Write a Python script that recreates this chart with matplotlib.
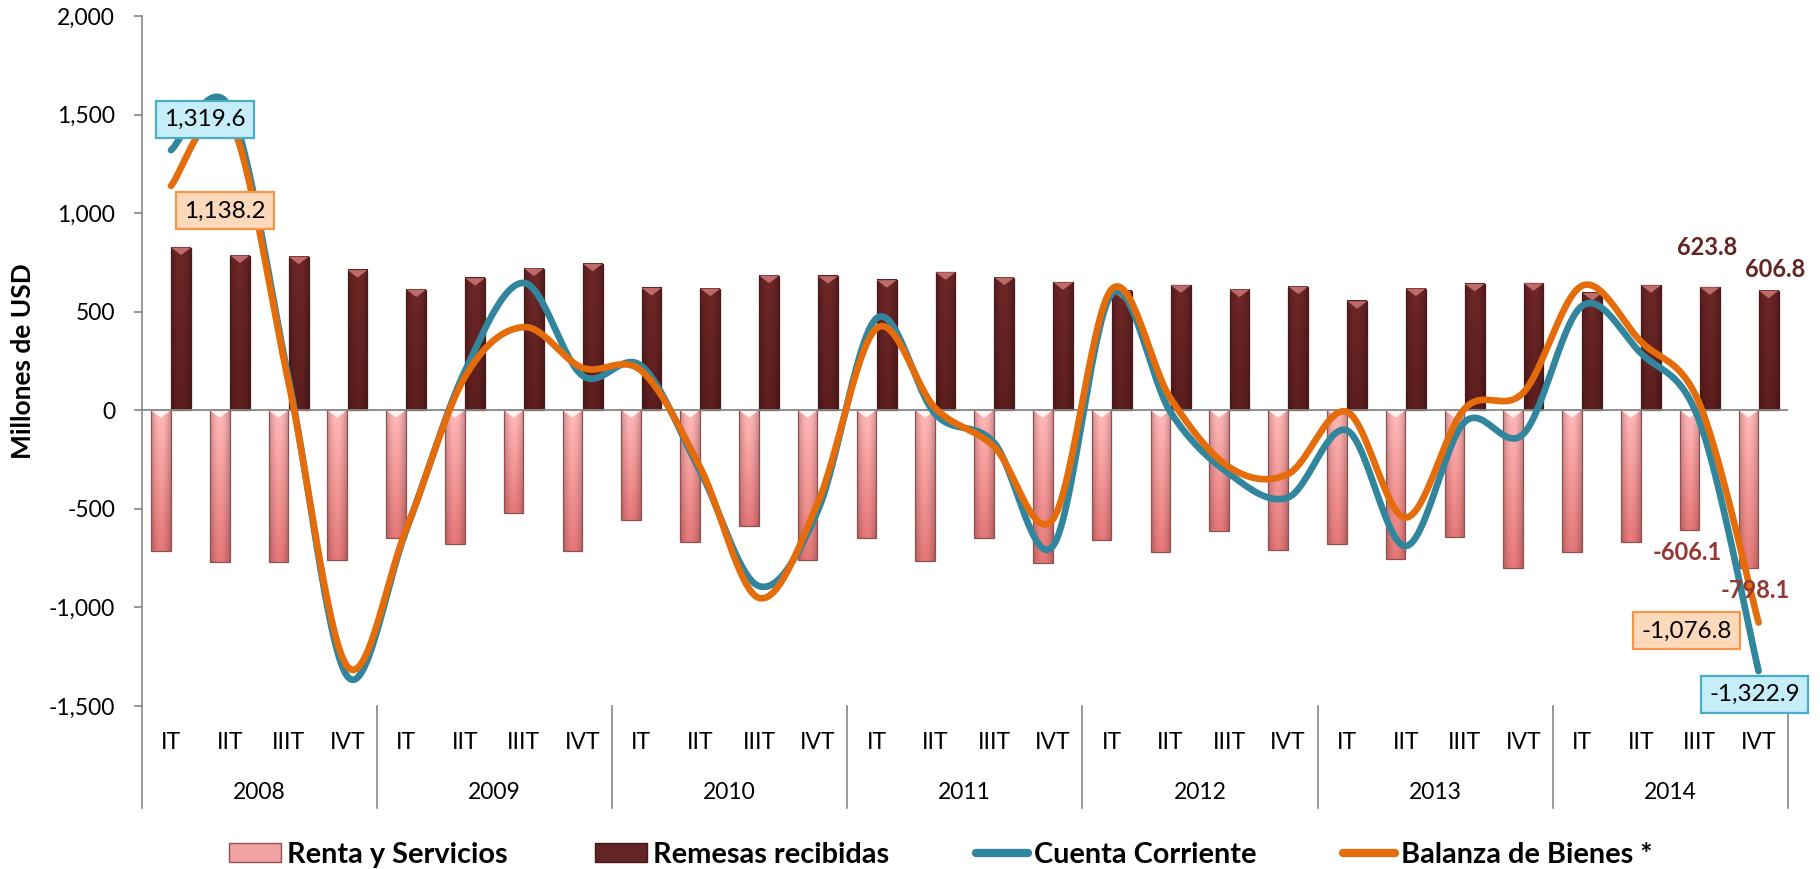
import numpy as np
import matplotlib
matplotlib.use('Agg')
import matplotlib.pyplot as plt
import matplotlib.ticker as mtick
from matplotlib.patches import Rectangle, Polygon, Patch
from matplotlib.lines import Line2D

plt.rcParams['font.family'] = ['Lato', 'DejaVu Sans']

years = ['2008', '2009', '2010', '2011', '2012', '2013', '2014']
quarters = ['IT', 'IIT', 'IIIT', 'IVT']

renta = [-714, -770, -770, -757, -646, -680, -522,
         -714, -556, -668, -587, -757, -646, -765,
         -646, -774, -658, -719, -612, -711, -677,
         -753, -641, -799, -719, -668, -606.1, -798.1]
remesas = [825, 785, 779, 711, 612, 670, 719,
           743, 620, 617, 683, 680, 660, 700,
           673, 649, 604, 634, 612, 627, 553,
           617, 641, 644, 595, 634, 623.8, 606.8]
cuenta = [1319.6, 1535, 160, -1350, -610, 200, 646,
          175, 225, -310, -892, -510, 467, -20,
          -165, -689, 590, -10, -323, -442, -102,
          -689, -60, -120, 530, 289, -60, -1322.9]
balanza = [1138.2, 1470, 140, -1300, -604, 170, 422,
           215, 200, -290, -952, -470, 416, 10,
           -185, -553, 615, 60, -289, -323, -8,
           -544, 8, 90, 632, 348, 30, -1076.8]

teal = '#31859C'
orange = '#E46C0A'
grey = '#868686'


def smooth(y, n=30):
    # excel style smoothed line: bezier through the points
    p = np.column_stack([np.arange(len(y), dtype=float), np.asarray(y, float)])
    pp = np.vstack([p[0], p, p[-1]])
    t = np.linspace(0, 1, n)[:, None]
    out = []
    for i in range(len(p) - 1):
        p0, p1, p2, p3 = pp[i], pp[i + 1], pp[i + 2], pp[i + 3]
        c1 = p1 + (p2 - p0) / 6
        c2 = p2 - (p3 - p1) / 6
        seg = (1 - t) ** 3 * p1 + 3 * (1 - t) ** 2 * t * c1 + 3 * (1 - t) * t ** 2 * c2 + t ** 3 * p2
        out.append(seg if i == 0 else seg[1:])
    out = np.vstack(out)
    return out[:, 0], out[:, 1]


def shaded_bar(ax, x0, w, val, c_base, c_tip, edge, tri):
    lo, hi = min(0, val), max(0, val)
    rows = np.linspace(0, 1, 40)[:, None]
    if val < 0:
        cols_v = np.array(c_tip) * (1 - rows) + np.array(c_base) * rows
    else:
        cols_v = np.array(c_base) * (1 - rows) + np.array(c_tip) * rows
    u = np.linspace(0, 1, 20)
    f = 0.8 + 0.22 * np.sin(np.pi * u)
    img = np.clip(cols_v[:, None, :] * f[None, :, None] / 255.0, 0, 1)
    ax.imshow(img, extent=(x0, x0 + w, lo, hi), origin='lower', aspect='auto',
              interpolation='bilinear', zorder=2)
    ax.add_patch(Rectangle((x0, lo), w, hi - lo, facecolor='none', edgecolor=edge, lw=0.9, zorder=2.1))
    top = val if val > 0 else 0
    ax.add_patch(Polygon([(x0, top), (x0 + w, top), (x0 + w / 2, top - 38)], closed=True,
                         facecolor=tri, edgecolor='none', zorder=2.2))


fig = plt.figure(figsize=(18.2, 8.69), dpi=100)
ax = fig.add_axes([0.0778, 0.1876, 0.9046, 0.794])

n = len(remesas)
w = 0.335
for i in range(n):
    shaded_bar(ax, i - 0.005 - w, w, renta[i], (255, 182, 182), (226, 118, 118), '#8E5050', (1, 0.95, 0.95))
    shaded_bar(ax, i + 0.005, w, remesas[i], (92, 30, 30), (108, 38, 38), '#4A1818', (0.74, 0.42, 0.42))

ax.axhline(0, color=grey, lw=1.3, zorder=2.5)

xs, ys = smooth(cuenta)
ax.plot(xs, ys, color=teal, lw=4.8, solid_capstyle='round', zorder=3)
xs, ys = smooth(balanza)
ax.plot(xs, ys, color=orange, lw=4.8, solid_capstyle='round', zorder=3.1)

ax.set_xlim(-0.5, n - 0.5)
ax.set_ylim(-1500, 2000)
ax.set_yticks(range(-1500, 2001, 500))
ax.yaxis.set_major_formatter(mtick.FuncFormatter(lambda v, p: f'{v:,.0f}'))
ax.tick_params(axis='y', length=6, width=1.2, color=grey, pad=13, labelsize=16.5)
ax.set_xticks([])
for s in ['top', 'right', 'bottom']:
    ax.spines[s].set_visible(False)
ax.spines['left'].set_color(grey)
ax.spines['left'].set_linewidth(1.2)
ax.spines['left'].set_bounds(-1500, 2000)

tr = ax.get_xaxis_transform()
for k in range(len(years) + 1):
    ax.plot([4 * k - 0.5] * 2, [0, -0.148], transform=tr, clip_on=False, color=grey, lw=1.2)
for i in range(n):
    ax.text(i, -0.0536, quarters[i % 4], transform=tr, ha='center', va='center', fontsize=16.5)
for k, yr in enumerate(years):
    ax.text(4 * k + 1.5, -0.126, yr, transform=tr, ha='center', va='center', fontsize=16.5)

fig.text(0.0125, 0.584, 'Millones de USD', rotation=90, ha='center', va='center',
         fontsize=19, fontweight='bold')

box_c = dict(boxstyle='square,pad=0.33', fc='#C6EEF9', ec='#4BACC6', lw=1.6)
box_o = dict(boxstyle='square,pad=0.33', fc='#FDD9BC', ec='#F79646', lw=1.6)
ax.annotate(f'{cuenta[0]:,.1f}', xy=(0, cuenta[0]), xytext=(24.5, 22.3), textcoords='offset points',
            ha='center', va='center', fontsize=17.5, bbox=box_c, zorder=5)
ax.annotate(f'{balanza[0]:,.1f}', xy=(0, balanza[0]), xytext=(38.9, -18), textcoords='offset points',
            ha='center', va='center', fontsize=17.5, bbox=box_o, zorder=5)
ax.annotate(f'{balanza[-1]:,.1f}', xy=(n - 1, balanza[-1]), xytext=(-52, -6), textcoords='offset points',
            ha='center', va='center', fontsize=17.5, bbox=box_o, zorder=5)
ax.annotate(f'{cuenta[-1]:,.1f}', xy=(n - 1, cuenta[-1]), xytext=(-3, -17), textcoords='offset points',
            ha='center', va='center', fontsize=17.5, bbox=box_c, zorder=5)

for i, dx in [(n - 2, -2), (n - 1, 5)]:
    ax.annotate(f'{remesas[i]:,.1f}', xy=(i + 0.17, remesas[i]), xytext=(dx, 29 if i == n - 2 else 15),
                textcoords='offset points', ha='center', va='center', fontsize=17,
                fontweight='bold', color='#632523', zorder=5)
    ax.annotate(f'{renta[i]:,.1f}', xy=(i - 0.17, renta[i]), xytext=(dx, -16.5),
                textcoords='offset points', ha='center', va='center', fontsize=17,
                fontweight='bold', color='#953735', zorder=5)

handles = [Patch(facecolor='#F2A2A2', edgecolor='#8E5050'),
           Patch(facecolor='#632523', edgecolor='#4A1818'),
           Line2D([], [], color=teal, lw=6, solid_capstyle='round'),
           Line2D([], [], color=orange, lw=6, solid_capstyle='round')]
labels = ['Renta y Servicios', 'Remesas recibidas', 'Cuenta Corriente', 'Balanza de Bienes *']
fig.legend(handles, labels, loc='center', bbox_to_anchor=(0.517, 0.0165), ncol=4, frameon=False,
           prop={'weight': 'bold', 'size': 20.8}, handlelength=1.8, handleheight=0.62,
           handletextpad=0.21, columnspacing=3.0, borderaxespad=0, borderpad=0)

fig.savefig('out.png', dpi=100)
